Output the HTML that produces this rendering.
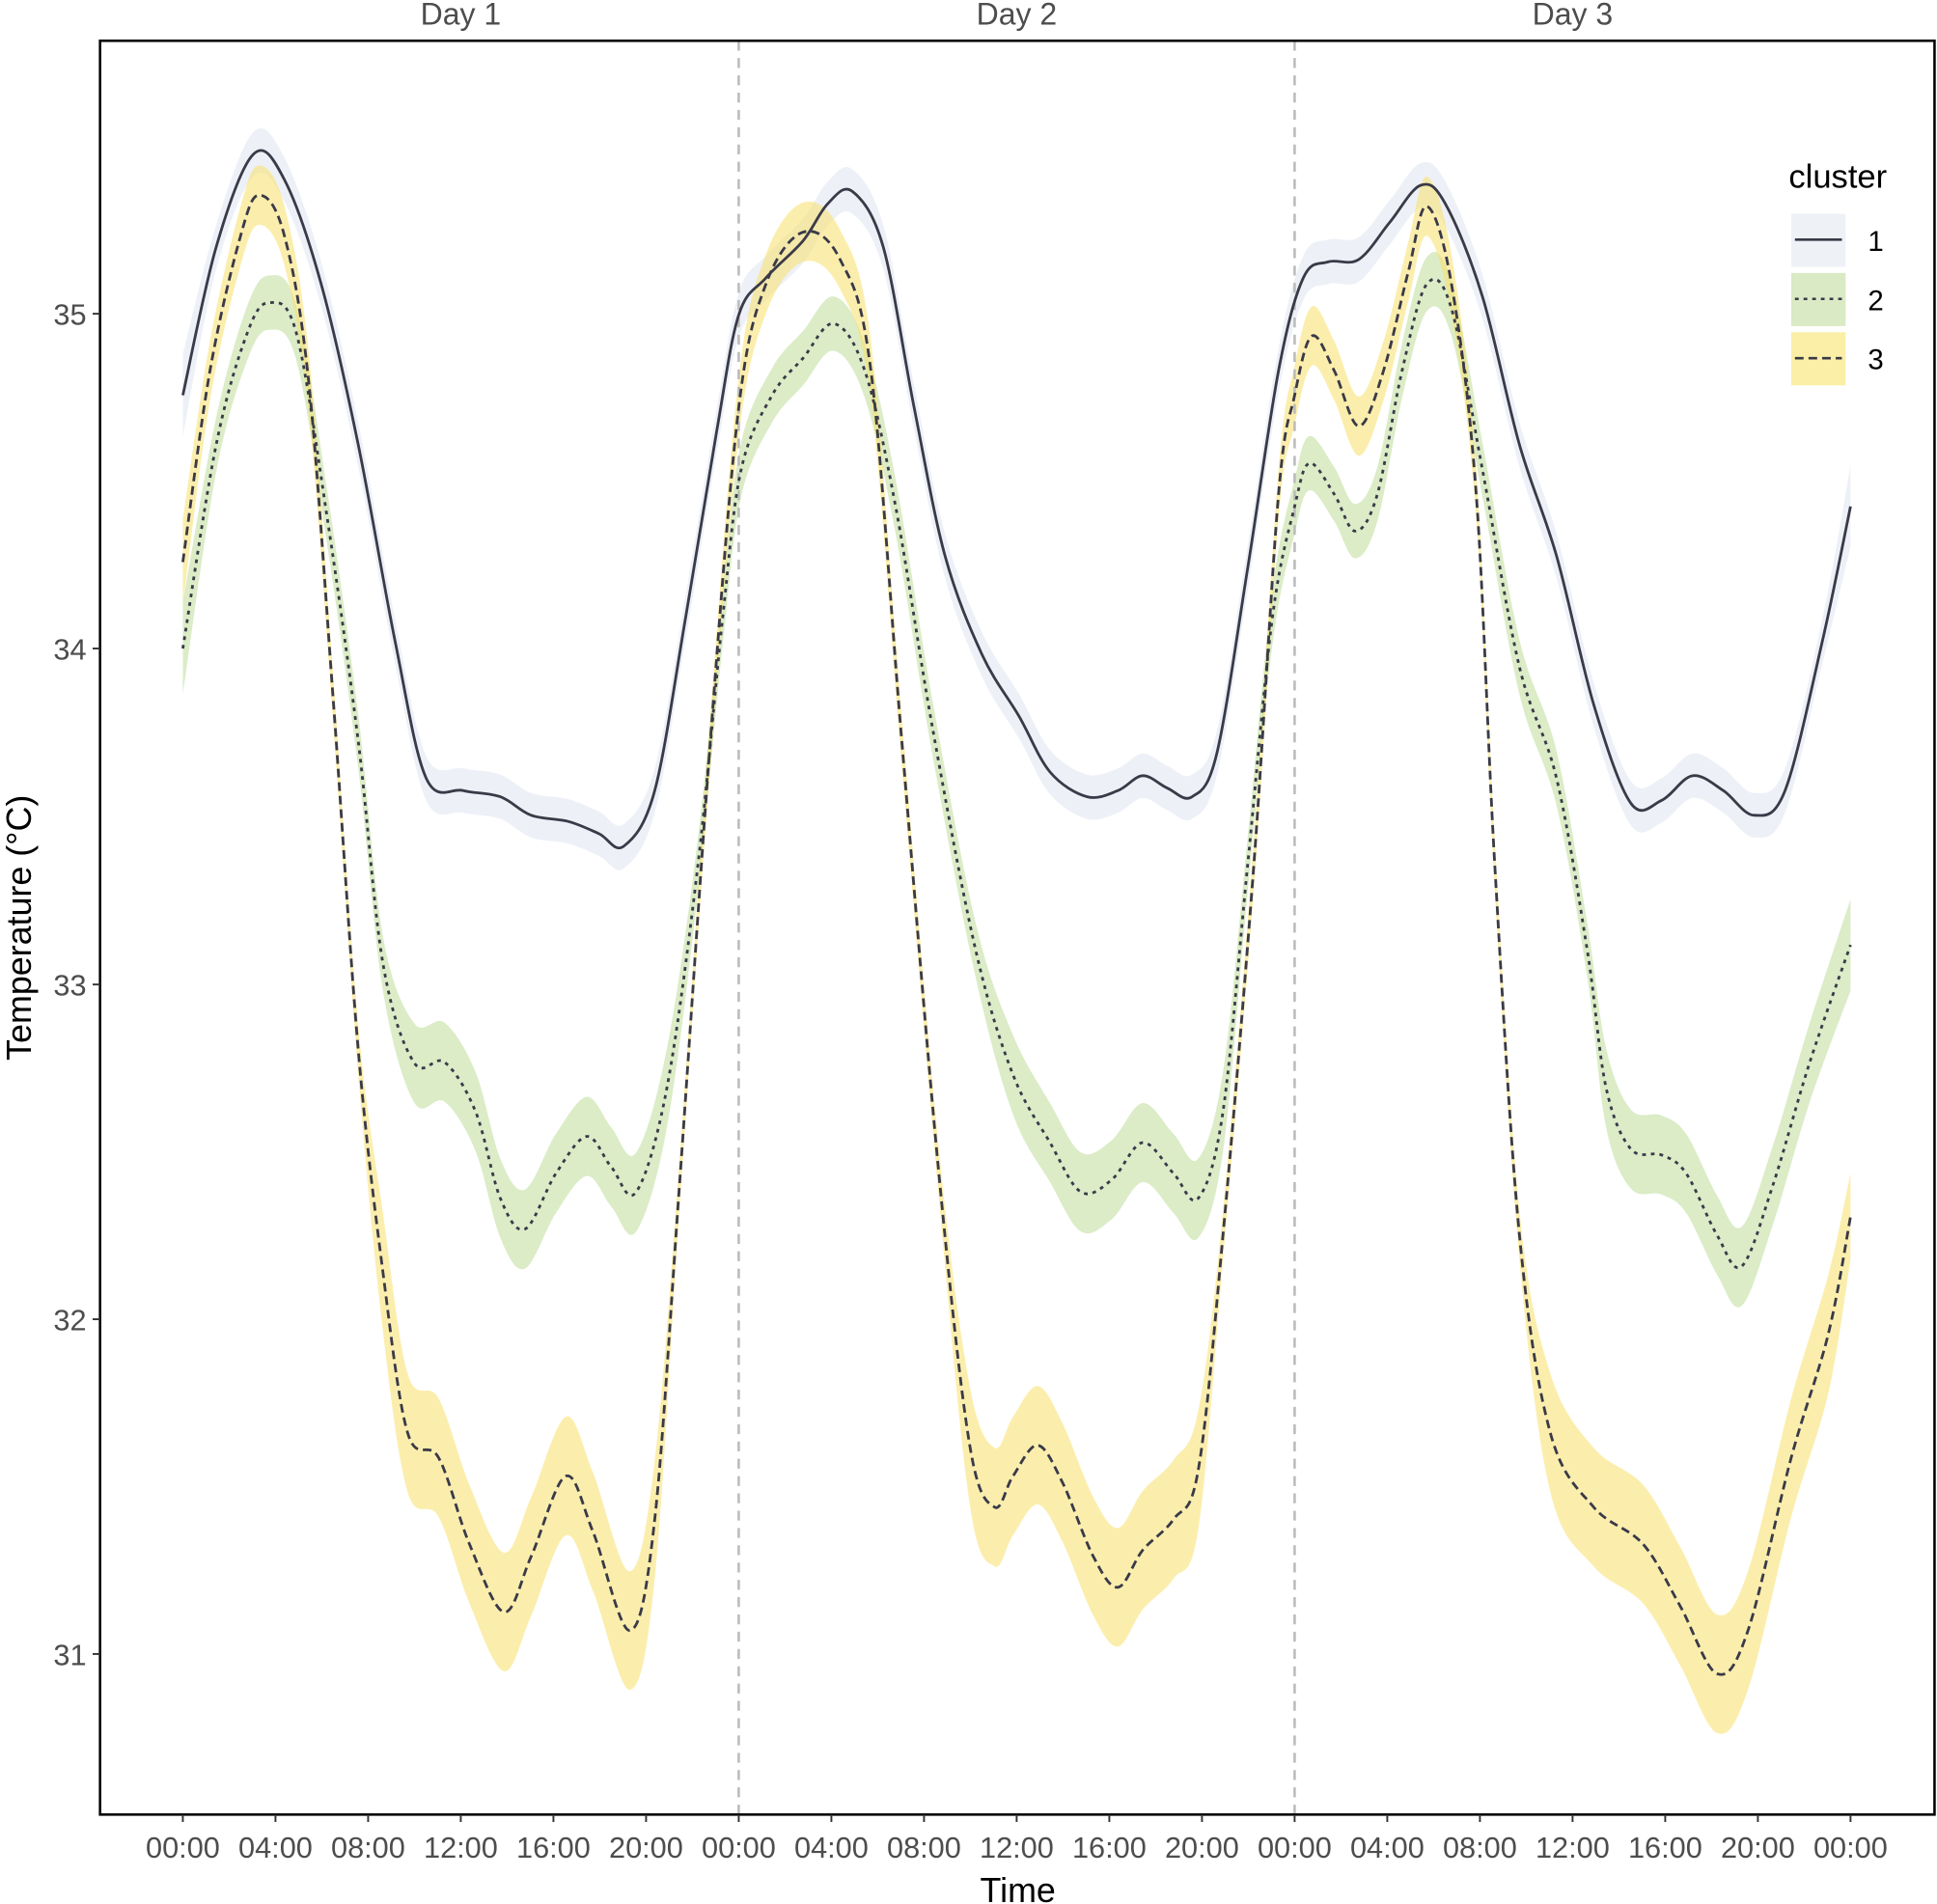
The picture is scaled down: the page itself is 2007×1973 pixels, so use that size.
<!DOCTYPE html>
<html><head><meta charset="utf-8"><style>
html,body{margin:0;padding:0;background:#fff}
svg{display:block}
text{font-family:"Liberation Sans",sans-serif;fill:#4d4d4d}
</style></head><body>
<svg id="s" width="2007" height="1973" viewBox="0 0 1568 1541.4" preserveAspectRatio="none" xmlns="http://www.w3.org/2000/svg">
<rect x="0" y="0" width="1568" height="1542" fill="#fff"/>
<g id="rib"></g>
<line x1="598" y1="33" x2="598" y2="1469" stroke="#bbb" stroke-width="2" stroke-dasharray="8,6"/>
<line x1="1048" y1="33" x2="1048" y2="1469" stroke="#bbb" stroke-width="2" stroke-dasharray="8,6"/>
<g id="lines"></g>
<rect x="81" y="33" width="1485" height="1436" fill="none" stroke="#000" stroke-width="2"/>
<text x="373" y="20" font-size="25" text-anchor="middle">Day 1</text>
<text x="823" y="20" font-size="25" text-anchor="middle">Day 2</text>
<text x="1273" y="20" font-size="25" text-anchor="middle">Day 3</text>
<g font-size="24" text-anchor="end">
<text x="70" y="263">35</text><text x="70" y="534">34</text><text x="70" y="806">33</text><text x="70" y="1077">32</text><text x="70" y="1348">31</text>
</g>
<g stroke="#333" stroke-width="1.5">
<line x1="75" y1="254" x2="81" y2="254"/><line x1="75" y1="525" x2="81" y2="525"/><line x1="75" y1="797" x2="81" y2="797"/><line x1="75" y1="1068" x2="81" y2="1068"/><line x1="75" y1="1339" x2="81" y2="1339"/>
</g>
<g id="xt" font-size="24" text-anchor="middle"></g>
<text x="824" y="1540" font-size="28" text-anchor="middle" style="fill:#000">Time</text>
<text transform="translate(25,751) rotate(-90)" font-size="28" text-anchor="middle" style="fill:#000">Temperature (°C)</text>
<text x="1448" y="152" font-size="27" style="fill:#000">cluster</text>
<rect x="1450" y="173" width="44" height="43" fill="#eef1f6"/>
<rect x="1450" y="221" width="44" height="43" fill="#d9eac4"/>
<rect x="1450" y="269" width="44" height="43" fill="#fbeea6"/>
<line x1="1453" y1="194" x2="1491" y2="194" stroke="#3a3a48" stroke-width="2"/>
<line x1="1453" y1="242" x2="1491" y2="242" stroke="#3a3a48" stroke-width="2" stroke-dasharray="3,4"/>
<line x1="1453" y1="290" x2="1491" y2="290" stroke="#3a3a48" stroke-width="2" stroke-dasharray="7,4"/>
<text x="1512" y="203" font-size="23" style="fill:#000">1</text>
<text x="1512" y="251" font-size="23" style="fill:#000">2</text>
<text x="1512" y="299" font-size="23" style="fill:#000">3</text>
</svg>
<script>
var NS="http://www.w3.org/2000/svg";
var c1=[[148,320],[175,200],[205,125],[230,145],[260,230],[290,360],[320,520],[345,630],[375,640],[405,645],[430,660],[460,665],[485,675],[505,685],[530,640],[555,500],[580,350],[598,255],[620,225],[650,195],[670,165],[690,155],[715,200],[740,330],[765,450],[795,530],[825,580],[850,625],[880,645],[905,640],[925,628],[945,638],[965,645],[985,610],[1010,460],[1035,300],[1055,225],[1075,212],[1100,210],[1125,180],[1150,150],[1170,165],[1200,240],[1230,360],[1260,450],[1290,570],[1320,650],[1345,648],[1370,628],[1395,640],[1420,660],[1445,640],[1475,520],[1498,410]];
var c2=[[148,525],[175,360],[200,270],[218,245],[240,270],[265,420],[290,600],[310,780],[335,860],[360,860],[385,900],[405,970],[425,995],[450,950],[475,920],[495,945],[515,965],[540,880],[565,700],[585,500],[600,380],[625,320],[650,290],[675,262],[700,300],[725,410],[755,590],[790,770],[820,870],[850,925],[875,965],[900,955],[925,925],[950,950],[970,970],[990,900],[1010,700],[1030,500],[1048,410],[1060,375],[1080,400],[1097,430],[1115,400],[1135,300],[1155,230],[1175,250],[1200,380],[1230,540],[1260,630],[1285,770],[1300,880],[1320,930],[1345,935],[1365,950],[1390,1000],[1410,1025],[1435,960],[1465,860],[1498,765]];
var c3=[[148,455],[170,300],[195,190],[210,158],[230,190],[250,310],[270,570],[290,850],[310,1030],[330,1160],[355,1180],[380,1250],[408,1305],[430,1260],[458,1195],[480,1240],[510,1320],[530,1230],[550,960],[575,600],[598,330],[620,230],[650,188],[680,210],[705,300],[730,600],[760,950],[785,1170],[805,1220],[820,1195],[840,1170],[860,1200],[885,1260],[905,1285],[925,1255],[950,1230],[970,1190],[990,1000],[1015,700],[1035,400],[1048,320],[1062,272],[1080,300],[1100,345],[1120,300],[1140,220],[1155,167],[1175,230],[1195,400],[1210,700],[1230,1000],[1255,1160],[1290,1220],[1330,1250],[1360,1300],[1390,1355],[1415,1320],[1450,1180],[1480,1080],[1498,985]];
function cr(p,start){var d=start?"M"+p[0][0]+","+p[0][1]:"L"+p[0][0]+","+p[0][1];
for(var i=0;i<p.length-1;i++){var p0=p[i-1]||p[i],p1=p[i],p2=p[i+1],p3=p[i+2]||p2;
d+="C"+(p1[0]+(p2[0]-p0[0])/6)+","+(p1[1]+(p2[1]-p0[1])/6)+" "+(p2[0]-(p3[0]-p1[0])/6)+","+(p2[1]-(p3[1]-p1[1])/6)+" "+p2[0]+","+p2[1];}return d;}
function rib(p,wf){var up=p.map(function(q,i){return [q[0],q[1]-wf(q,i)]});var lo=p.map(function(q,i){return [q[0],q[1]+wf(q,i)]}).reverse();return cr(up,true)+cr(lo,false)+"Z";}
function add(g,d,a){var e=document.createElementNS(NS,"path");e.setAttribute("d",d);for(var k in a)e.setAttribute(k,a[k]);document.getElementById(g).appendChild(e);}
function edge(q,base){var e=0;if(q[0]<170||q[0]>1480)e=15;return base+e;}
add("rib",rib(c1,function(q){return edge(q,18)}),{fill:"#dfe5f0",opacity:"0.55"});
add("rib",rib(c2,function(q){return edge(q,q[1]>800?32:22)}),{fill:"#b8da8f",opacity:"0.5"});
add("rib",rib(c3,function(q){return edge(q,q[1]>1000?48:(q[1]<400?24:20))}),{fill:"#f8e06a",opacity:"0.55"});
add("lines",cr(c1,true),{fill:"none",stroke:"#3a3a48","stroke-width":"2.2"});
add("lines",cr(c2,true),{fill:"none",stroke:"#3a3a48","stroke-width":"2.2","stroke-dasharray":"3,4"});
add("lines",cr(c3,true),{fill:"none",stroke:"#3a3a48","stroke-width":"2.2","stroke-dasharray":"7,4"});
var lab=["00:00","04:00","08:00","12:00","16:00","20:00"];var xt=document.getElementById("xt");
for(var i=0;i<=18;i++){var x=148+i*75;var t=document.createElementNS(NS,"text");t.setAttribute("x",x);t.setAttribute("y",1504);t.textContent=lab[i%6];xt.appendChild(t);
var l=document.createElementNS(NS,"line");l.setAttribute("x1",x);l.setAttribute("x2",x);l.setAttribute("y1",1469);l.setAttribute("y2",1475);l.setAttribute("stroke","#333");l.setAttribute("stroke-width","1.5");xt.appendChild(l);}
</script>
</body></html>
